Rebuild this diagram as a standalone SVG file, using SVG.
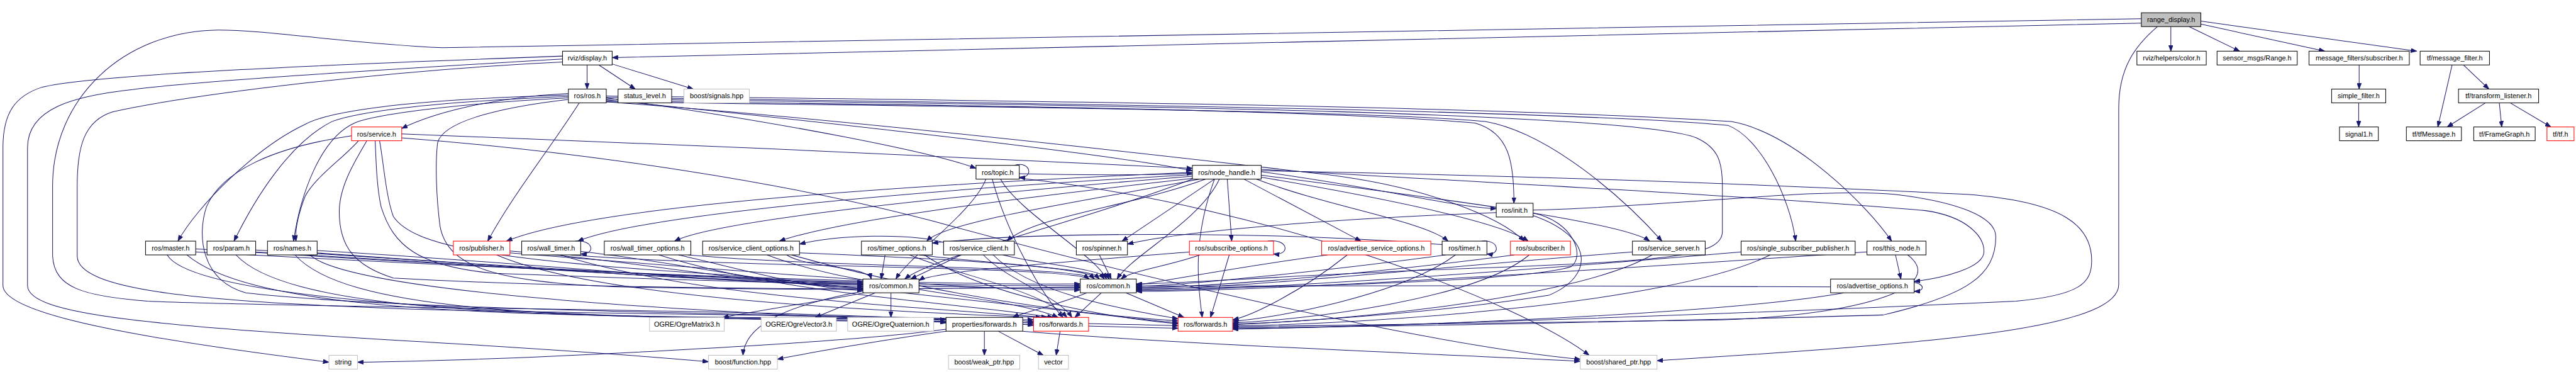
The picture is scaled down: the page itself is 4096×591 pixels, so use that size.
<svg xmlns="http://www.w3.org/2000/svg" width="4096" height="591" viewBox="0 0 4096 591">
<style>
rect{fill:#fff;stroke:#000;stroke-width:1.3}
rect.r{stroke:#ff0000}
rect.g{stroke:#bfbfbf}
rect.root{fill:#bfbfbf}
text{font-family:"Liberation Sans",Arial,sans-serif;font-size:14px;fill:#000;text-anchor:middle}
#connectors path{fill:none;stroke:#191970;stroke-width:1.3;marker-end:url(#arr)}
</style>
<defs>
<marker id="arr" viewBox="0 0 12 9" refX="12" refY="4.5" markerWidth="12" markerHeight="9" markerUnits="userSpaceOnUse" orient="auto">
<path d="M0,0 L12,4.5 L0,9 z" fill="#191970" stroke="#191970" stroke-width="1"/>
</marker>
</defs>
<rect x="0" y="0" width="4096" height="591" style="fill:#fff;stroke:none"/>
<g transform="scale(0.781828)">
<g id="connectors">
<path d="M4355,47 C3500,62 2200,98 1245,117"/>
<path d="M4355,38 C3200,56 1800,84 900,97 C700,88 540,60 442,61 C250,64 107,200 107,378 L107,520 C110,585 170,602 300,612 C700,628 1500,626 1924,650"/>
<path d="M1144,114 C700,130 200,150 86,177 C30,195 6,230 6,300 L6,580 C6,640 300,690 669,736"/>
<path d="M1144,120 C800,140 400,165 270,182 C150,195 56,220 56,300 L56,580 C56,640 300,662 900,697 C1200,715 1350,727 1441,735"/>
<path d="M1144,126 C800,142 400,190 230,227 C170,245 157,300 157,378 L157,520 C157,590 400,615 900,630 C1500,642 1800,640 1924,656"/>
<path d="M1194,132 L1194,181"/>
<path d="M1218,132 L1292,181"/>
<path d="M1245,130 L1410,181"/>
<path d="M4415,54 L4415,104"/>
<path d="M4452,54 L4555,104"/>
<path d="M4476,49 L4728,104"/>
<path d="M4476,43 L4915,104"/>
<path d="M4388,54 C4340,95 4309,140 4309,220 L4309,578 C4309,660 4000,690 3600,718 C3500,725 3420,730 3370,733"/>
<path d="M4798,132 L4798,181"/>
<path d="M4797,209 L4797,258"/>
<path d="M4987,132 L4958,258"/>
<path d="M5010,132 L5062,181"/>
<path d="M5055,209 L4977,258"/>
<path d="M5083,209 L5088,258"/>
<path d="M5105,209 L5188,258"/>
<path d="M1156,190 C1000,198 880,230 817,261"/>
<path d="M1156,193 C800,203 660,230 620,253 C520,300 400,420 362,490"/>
<path d="M1156,196 C850,208 720,230 675,247 C590,290 520,400 476,490"/>
<path d="M1156,199 C900,212 760,235 723,249 C650,280 610,400 597,490"/>
<path d="M1178,209 C1120,300 1040,400 992,490"/>
<path d="M1233,199 C1600,250 1900,310 1985,342"/>
<path d="M1233,203 C1800,260 2300,320 2425,347"/>
<path d="M1233,205 C2000,214 2700,224 3000,250 C3070,270 3079,330 3079,413"/>
<path d="M1233,207 C2000,217 2800,225 3021,247 C3150,270 3300,400 3380,490"/>
<path d="M1233,195 C2000,204 3000,214 3521,247 C3650,270 3800,420 3847,490"/>
<path d="M1233,198 C2000,208 3200,224 3515,255 C3580,280 3640,400 3652,490"/>
<path d="M1233,207 C1700,240 2400,320 2700,355 C2900,380 3050,440 3100,490"/>
<path d="M1233,201 C2000,212 3300,222 3450,280 C3495,300 3503,330 3503,378 L3503,470 C3503,520 3400,530 3000,545 C2600,560 2400,577 2311,577"/>
<path d="M1156,202 C1000,220 900,250 890,290 C885,330 887,400 895,460 C910,540 1000,578 1300,584 C1550,588 1700,588 1755,588"/>
<path d="M817,272 C1300,290 2000,320 2425,342"/>
<path d="M729,286 C700,320 640,360 620,400 C605,440 600,470 602,490"/>
<path d="M715,276 C550,300 450,350 420,420 C400,480 410,570 500,595 C800,630 1600,640 2102,650"/>
<path d="M746,286 C720,330 690,380 690,430 C690,500 720,540 800,565 C1300,592 1900,588 2197,583"/>
<path d="M763,286 C765,330 766,378 775,420 C800,500 850,540 1000,555 C1400,570 1650,576 1755,577"/>
<path d="M772,286 C780,330 785,400 800,440 C840,500 1000,530 1500,560 C2000,610 2300,648 2396,656"/>
<path d="M817,280 C1200,310 1600,370 1900,450 C2300,560 2900,700 3214,730"/>
<path d="M2063,336 C2098,326 2102,364 2073,360"/>
<path d="M2073,353 C2200,356 2350,356 2425,352"/>
<path d="M2005,364 C1980,430 1850,520 1822,567"/>
<path d="M2035,364 C2070,430 2230,520 2250,567"/>
<path d="M2018,364 C2050,480 2120,600 2162,645"/>
<path d="M2073,362 C2600,420 3100,620 3232,722"/>
<path d="M2425,350 C1800,378 1200,420 1030,490"/>
<path d="M2425,355 C1800,390 1300,440 1175,490"/>
<path d="M2425,358 C1900,400 1450,450 1372,490"/>
<path d="M2430,362 C2000,410 1700,450 1585,490"/>
<path d="M2440,364 C2200,410 1920,450 1885,490"/>
<path d="M2452,364 C2300,420 2100,440 2048,490"/>
<path d="M2470,364 L2282,490"/>
<path d="M2496,364 L2505,490"/>
<path d="M2530,364 L2768,490"/>
<path d="M2555,364 C2700,420 2900,450 2945,490"/>
<path d="M2565,360 C2800,400 3050,450 3108,490"/>
<path d="M2565,356 C2900,400 3300,450 3355,490"/>
<path d="M2565,349 C2800,380 2950,420 3043,424"/>
<path d="M2565,344 C3000,370 3600,400 3916,428 C4000,440 4035,480 4035,511 C4035,545 3950,565 3893,572"/>
<path d="M2425,364 C2200,450 1900,520 1840,567"/>
<path d="M2480,364 C2440,450 2300,520 2272,567"/>
<path d="M2470,364 C2420,500 2440,600 2445,645"/>
<path d="M2565,347 C3000,355 3500,370 4000,395 C4200,410 4254,460 4254,530 C4254,575 4230,600 4100,612 C3500,640 2800,662 2507,669"/>
<path d="M3043,432 C2700,445 2400,470 2293,496"/>
<path d="M3118,433 C3200,450 3225,520 3195,542 C3100,572 2600,585 2311,586"/>
<path d="M3118,427 C3400,420 3700,380 3853,395 C3980,410 4059,440 4059,481 C4059,560 4000,600 3830,640 C3500,650 2800,665 2507,666"/>
<path d="M3118,438 C3240,480 3245,560 3150,600 C2900,640 2600,655 2507,660"/>
<path d="M398,506 C900,530 1400,575 1755,573"/>
<path d="M398,512 C1000,545 1800,580 2197,577"/>
<path d="M380,518 C500,620 900,640 1500,645 C1900,648 2050,648 2102,654"/>
<path d="M340,518 C400,620 1200,650 2000,655 C2250,658 2350,660 2396,662"/>
<path d="M520,508 C1000,535 1450,578 1755,576"/>
<path d="M520,513 C1100,550 1850,585 2197,580"/>
<path d="M480,518 C580,625 1000,642 1600,647 C1950,650 2060,652 2102,657"/>
<path d="M645,509 C1100,535 1500,580 1755,579"/>
<path d="M645,514 C1200,555 1900,590 2197,585"/>
<path d="M600,518 C700,630 1100,645 1700,650 C2000,653 2070,657 2102,661"/>
<path d="M630,518 C720,600 1500,640 2100,660 C2300,664 2370,666 2396,667"/>
<path d="M1037,510 C1300,530 1550,582 1755,582"/>
<path d="M1037,514 C1500,550 2000,592 2197,589"/>
<path d="M1010,518 C1200,600 1700,630 2118,645"/>
<path d="M1170,490 C1208,486 1212,518 1181,516"/>
<path d="M1181,511 C1400,535 1600,585 1755,585"/>
<path d="M1160,518 C1500,545 2180,540 2215,567"/>
<path d="M1140,518 C1400,600 1800,620 2130,645"/>
<path d="M1380,518 C1500,545 1650,588 1755,590"/>
<path d="M1400,518 C1700,545 2200,540 2226,567"/>
<path d="M1340,518 C1600,600 1950,615 2142,645"/>
<path d="M1600,518 C1640,545 1765,540 1772,567"/>
<path d="M1626,514 C1900,525 2210,540 2236,567"/>
<path d="M1560,518 C1750,590 2050,600 2152,645"/>
<path d="M1610,518 C1900,600 2200,640 2396,652"/>
<path d="M1800,518 L1792,567"/>
<path d="M1870,518 C2000,535 2230,545 2246,567"/>
<path d="M1850,518 C1950,560 2120,590 2170,645"/>
<path d="M1880,518 C2000,600 2250,645 2396,658"/>
<path d="M1955,518 L1852,567"/>
<path d="M2040,518 C2100,535 2240,545 2256,567"/>
<path d="M2000,518 C2050,570 2150,600 2180,645"/>
<path d="M2020,518 C2100,600 2300,630 2396,648"/>
<path d="M1925,494 C1850,472 1700,478 1626,496"/>
<path d="M2236,518 L2260,567"/>
<path d="M2578,490 C2622,484 2624,520 2590,516"/>
<path d="M2440,518 C2380,540 2300,550 2280,567"/>
<path d="M2500,518 L2462,645"/>
<path d="M2419,512 C2200,530 1900,550 1869,570"/>
<path d="M2700,518 C2500,545 2350,575 2311,579"/>
<path d="M2740,518 C2650,590 2550,640 2507,650"/>
<path d="M3014,490 C3050,486 3052,520 3024,516"/>
<path d="M2940,518 C2700,550 2400,581 2311,582"/>
<path d="M2960,518 C2850,600 2600,645 2507,653"/>
<path d="M2933,497 C2600,470 2100,470 1896,494"/>
<path d="M3080,518 C2800,555 2450,585 2311,584"/>
<path d="M3110,518 C3000,610 2650,650 2507,656"/>
<path d="M3320,512 C2900,545 2500,588 2311,588"/>
<path d="M3360,518 C3200,610 2700,655 2507,658"/>
<path d="M3541,512 C3100,550 2550,590 2311,590"/>
<path d="M3600,518 C3400,620 2750,660 2507,662"/>
<path d="M3797,512 C3300,545 2600,592 2311,592"/>
<path d="M3855,518 L3866,567"/>
<path d="M3880,518 C3960,580 3800,640 3500,650 C3000,660 2700,664 2507,664"/>
<path d="M3893,574 C3915,578 3915,592 3893,592"/>
<path d="M3723,583 C3300,580 2600,580 2311,581"/>
<path d="M3750,595 C3500,640 2800,665 2507,668"/>
<path d="M1758,595 C1650,615 1520,635 1470,645"/>
<path d="M1780,595 L1658,645"/>
<path d="M1812,595 L1812,645"/>
<path d="M1755,592 C1600,620 1515,660 1511,722"/>
<path d="M2210,595 C2150,620 2080,635 2060,645"/>
<path d="M2240,595 L2186,645"/>
<path d="M2290,595 L2408,645"/>
<path d="M2002,673 L2002,722"/>
<path d="M2030,673 L2122,722"/>
<path d="M1924,669 C1700,700 1000,733 727,736"/>
<path d="M1924,673 C1800,690 1650,716 1581,730"/>
<path d="M2080,673 C2400,700 2900,718 3214,734"/>
<path d="M2156,673 L2148,722"/>
</g>
<g id="n_range_display"><rect class="root" x="4355" y="26" width="121" height="28"/><text x="4415.5" y="45">range_display.h</text></g>
<g id="n_rviz_display"><rect x="1144" y="104" width="101" height="28"/><text x="1194.5" y="123">rviz/display.h</text></g>
<g id="n_color"><rect x="4346" y="104" width="141" height="28"/><text x="4416.5" y="123">rviz/helpers/color.h</text></g>
<g id="n_range"><rect x="4509" y="104" width="163" height="28"/><text x="4590.5" y="123">sensor_msgs/Range.h</text></g>
<g id="n_mf_sub"><rect x="4696" y="104" width="204" height="28"/><text x="4798" y="123">message_filters/subscriber.h</text></g>
<g id="n_tf_mf"><rect x="4922" y="104" width="141" height="28"/><text x="4992.5" y="123">tf/message_filter.h</text></g>
<g id="n_ros_ros"><rect x="1156" y="181" width="77" height="28"/><text x="1194.5" y="200">ros/ros.h</text></g>
<g id="n_status"><rect x="1257" y="181" width="109" height="28"/><text x="1311.5" y="200">status_level.h</text></g>
<g id="n_signals"><rect class="g" x="1391" y="181" width="133" height="28"/><text x="1457.5" y="200">boost/signals.hpp</text></g>
<g id="n_simple_filter"><rect x="4742" y="181" width="110" height="28"/><text x="4797" y="200">simple_filter.h</text></g>
<g id="n_tl"><rect x="5000" y="181" width="163" height="28"/><text x="5081.5" y="200">tf/transform_listener.h</text></g>
<g id="n_service"><rect class="r" x="715" y="258" width="102" height="28"/><text x="766" y="277">ros/service.h</text></g>
<g id="n_signal1"><rect x="4758" y="258" width="79" height="28"/><text x="4797.5" y="277">signal1.h</text></g>
<g id="n_tfmsg"><rect x="4894" y="258" width="112" height="28"/><text x="4950" y="277">tf/tfMessage.h</text></g>
<g id="n_fg"><rect x="5031" y="258" width="125" height="28"/><text x="5093.5" y="277">tf/FrameGraph.h</text></g>
<g id="n_tf"><rect class="r" x="5180" y="258" width="55" height="28"/><text x="5207.5" y="277">tf/tf.h</text></g>
<g id="n_topic"><rect x="1985" y="336" width="88" height="28"/><text x="2029" y="355">ros/topic.h</text></g>
<g id="n_nh"><rect x="2425" y="336" width="140" height="28"/><text x="2495" y="355">ros/node_handle.h</text></g>
<g id="n_init"><rect x="3043" y="413" width="75" height="28"/><text x="3080.5" y="432">ros/init.h</text></g>
<g id="n_master"><rect x="296" y="490" width="102" height="28"/><text x="347" y="509">ros/master.h</text></g>
<g id="n_param"><rect x="421" y="490" width="99" height="28"/><text x="470.5" y="509">ros/param.h</text></g>
<g id="n_names"><rect x="544" y="490" width="101" height="28"/><text x="594.5" y="509">ros/names.h</text></g>
<g id="n_publisher"><rect class="r" x="922" y="490" width="115" height="28"/><text x="979.5" y="509">ros/publisher.h</text></g>
<g id="n_wall_timer"><rect x="1061" y="490" width="120" height="28"/><text x="1121" y="509">ros/wall_timer.h</text></g>
<g id="n_wto"><rect x="1229" y="490" width="176" height="28"/><text x="1317" y="509">ros/wall_timer_options.h</text></g>
<g id="n_sco"><rect x="1429" y="490" width="197" height="28"/><text x="1527.5" y="509">ros/service_client_options.h</text></g>
<g id="n_to"><rect x="1752" y="490" width="144" height="28"/><text x="1824" y="509">ros/timer_options.h</text></g>
<g id="n_sc"><rect x="1919" y="490" width="144" height="28"/><text x="1991" y="509">ros/service_client.h</text></g>
<g id="n_spinner"><rect x="2189" y="490" width="104" height="28"/><text x="2241" y="509">ros/spinner.h</text></g>
<g id="n_so"><rect class="r" x="2419" y="490" width="171" height="28"/><text x="2504.5" y="509">ros/subscribe_options.h</text></g>
<g id="n_aso"><rect class="r" x="2688" y="490" width="222" height="28"/><text x="2799" y="509">ros/advertise_service_options.h</text></g>
<g id="n_timer"><rect x="2933" y="490" width="91" height="28"/><text x="2978.5" y="509">ros/timer.h</text></g>
<g id="n_subscriber"><rect class="r" x="3072" y="490" width="122" height="28"/><text x="3133" y="509">ros/subscriber.h</text></g>
<g id="n_ss"><rect x="3320" y="490" width="148" height="28"/><text x="3394" y="509">ros/service_server.h</text></g>
<g id="n_ssp"><rect x="3541" y="490" width="232" height="28"/><text x="3657" y="509">ros/single_subscriber_publisher.h</text></g>
<g id="n_this_node"><rect x="3797" y="490" width="120" height="28"/><text x="3857" y="509">ros/this_node.h</text></g>
<g id="n_commonA"><rect x="1755" y="567" width="114" height="28"/><text x="1812" y="586">ros/common.h</text></g>
<g id="n_commonB"><rect x="2197" y="567" width="114" height="28"/><text x="2254" y="586">ros/common.h</text></g>
<g id="n_ao"><rect x="3723" y="567" width="170" height="28"/><text x="3808" y="586">ros/advertise_options.h</text></g>
<g id="n_m3"><rect class="g" x="1321" y="645" width="152" height="28"/><text x="1397" y="664">OGRE/OgreMatrix3.h</text></g>
<g id="n_v3"><rect class="g" x="1548" y="645" width="153" height="28"/><text x="1624.5" y="664">OGRE/OgreVector3.h</text></g>
<g id="n_q"><rect class="g" x="1724" y="645" width="175" height="28"/><text x="1811.5" y="664">OGRE/OgreQuaternion.h</text></g>
<g id="n_pf"><rect x="1924" y="645" width="156" height="28"/><text x="2002" y="664">properties/forwards.h</text></g>
<g id="n_fwA"><rect class="r" x="2102" y="645" width="112" height="28"/><text x="2158" y="664">ros/forwards.h</text></g>
<g id="n_fwB"><rect class="r" x="2396" y="645" width="111" height="28"/><text x="2451.5" y="664">ros/forwards.h</text></g>
<g id="n_string"><rect class="g" x="669" y="722" width="58" height="28"/><text x="698" y="741">string</text></g>
<g id="n_function"><rect class="g" x="1441" y="722" width="140" height="28"/><text x="1511" y="741">boost/function.hpp</text></g>
<g id="n_weak"><rect class="g" x="1929" y="722" width="145" height="28"/><text x="2001.5" y="741">boost/weak_ptr.hpp</text></g>
<g id="n_vector"><rect class="g" x="2112" y="722" width="61" height="28"/><text x="2142.5" y="741">vector</text></g>
<g id="n_shared"><rect class="g" x="3214" y="722" width="156" height="28"/><text x="3292" y="741">boost/shared_ptr.hpp</text></g>
</g>
</svg>
